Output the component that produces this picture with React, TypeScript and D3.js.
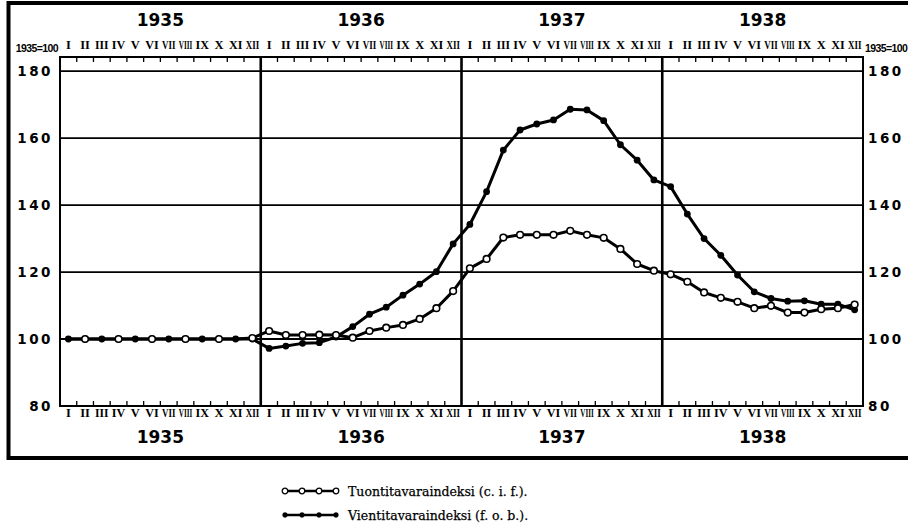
import { useEffect, useRef } from 'react';
import * as d3 from 'd3';

const years = ['1935', '1936', '1937', '1938'];
const monthLabels = ['I', 'II', 'III', 'IV', 'V', 'VI', 'VII', 'VIII', 'IX', 'X', 'XI', 'XII'];
const yTicks = [80, 100, 120, 140, 160, 180];

// Tuontitavaraindeksi (c.i.f.), 1935 = 100, monthly 1935-1938
const importIndex = [
  100, 100, 100, 100, 100, 100, 100, 100, 100, 100, 100, 100.3,
  102.4, 101.2, 101.2, 101.3, 101.2, 100.4, 102.4, 103.4, 104.2, 106, 109.2, 114.3,
  121.1, 123.9, 130.3, 131.1, 131.1, 131.1, 132.3, 131.1, 130.2, 126.9, 122.4, 120.4,
  119.3, 117.1, 113.9, 112.3, 111.1, 109.2, 109.9, 107.9, 107.9, 108.9, 109.2, 110.3
];

// Vientitavaraindeksi (f.o.b.)
const exportIndex = [
  100, 100, 100, 100, 100, 100, 100, 100, 100, 100, 100, 100,
  97.2, 97.9, 98.7, 98.9, 100.6, 103.7, 107.4, 109.5, 113.1, 116.4, 120.1, 128.4,
  134.2, 144, 156.4, 162.4, 164.2, 165.4, 168.6, 168.4, 165.2, 158, 153.4, 147.5,
  145.5, 137.3, 130, 125, 119.1, 114.1, 112.1, 111.3, 111.4, 110.4, 110.4, 108.7
];

const legendItems = [
  { label: 'Tuontitavaraindeksi (c. i. f.).', open: true },
  { label: 'Vientitavaraindeksi (f. o. b.).', open: false }
];

export default function App() {
  const ref = useRef(null);

  useEffect(() => {
    const root = d3.select(ref.current);
    root.selectAll('*').remove();

    const left = 60, right = 863, top = 57, bottom = 406;
    const nMonths = years.length * 12;

    const x = d3.scaleLinear().domain([0, nMonths]).range([left, right]);
    const y = d3.scaleLinear().domain([80, 184.2]).range([bottom, top]);

    const svg = root.append('g');

    // outer frame
    svg.append('path')
      .attr('d', `M8.5,460 L8.5,3 L910,3 M8.5,458 L910,458`)
      .attr('fill', 'none')
      .attr('stroke', '#000')
      .attr('stroke-width', 4);

    // horizontal grid
    svg.selectAll('.grid')
      .data(yTicks.filter(d => d > 80))
      .enter().append('line')
      .attr('x1', left).attr('x2', right)
      .attr('y1', d => y(d)).attr('y2', d => y(d))
      .attr('stroke', '#000')
      .attr('stroke-width', 1.8);

    // plot border
    svg.append('rect')
      .attr('x', left).attr('y', top)
      .attr('width', right - left).attr('height', bottom - top)
      .attr('fill', 'none')
      .attr('stroke', '#000')
      .attr('stroke-width', 2);

    // year separators
    svg.selectAll('.yearline')
      .data(d3.range(1, years.length))
      .enter().append('line')
      .attr('x1', d => x(d * 12)).attr('x2', d => x(d * 12))
      .attr('y1', top).attr('y2', bottom)
      .attr('stroke', '#000')
      .attr('stroke-width', 2.6);

    // month ticks top and bottom
    const bounds = d3.range(1, nMonths).filter(i => i % 12 !== 0);
    svg.selectAll('.ttick')
      .data(bounds)
      .enter().append('line')
      .attr('x1', d => x(d)).attr('x2', d => x(d))
      .attr('y1', top).attr('y2', top + 5)
      .attr('stroke', '#000').attr('stroke-width', 1.3);
    svg.selectAll('.btick')
      .data(bounds)
      .enter().append('line')
      .attr('x1', d => x(d)).attr('x2', d => x(d))
      .attr('y1', bottom).attr('y2', bottom - 5)
      .attr('stroke', '#000').attr('stroke-width', 1.3);

    // month numerals, squeezed horizontally so they fit a month
    const months = d3.range(nMonths);
    const maxW = 13.5;
    [49, 417].forEach(ty => {
      svg.selectAll(null)
        .data(months)
        .enter().append('text')
        .attr('text-anchor', 'middle')
        .attr('font-family', 'Liberation Serif')
        .attr('font-weight', 'bold')
        .attr('font-size', 12.5)
        .text(d => monthLabels[d % 12])
        .each(function (d) {
          const w = (this as SVGTextElement).getComputedTextLength();
          const sx = Math.min(1, maxW / w);
          d3.select(this).attr('transform', `translate(${x(d + 0.5)},${ty}) scale(${sx},1)`);
        });
    });

    // year labels
    [26, 443].forEach(ty => {
      svg.selectAll(null)
        .data(years)
        .enter().append('text')
        .attr('x', (d, i) => x(i * 12 + 6))
        .attr('y', ty)
        .attr('text-anchor', 'middle')
        .attr('font-family', 'DejaVu Sans')
        .attr('font-weight', 'bold')
        .attr('font-size', 17)
        .text(d => d);
    });

    // y axis labels both sides
    svg.selectAll('.ylab')
      .data(yTicks)
      .enter().append('text')
      .attr('x', left - 7)
      .attr('y', d => y(d) + 5)
      .attr('text-anchor', 'end')
      .attr('font-family', 'DejaVu Sans')
      .attr('font-weight', 'bold')
      .attr('font-size', 13.5)
      .attr('letter-spacing', 2.5)
      .text(d => d);
    svg.selectAll('.ylabr')
      .data(yTicks)
      .enter().append('text')
      .attr('x', right + 5)
      .attr('y', d => y(d) + 5)
      .attr('font-family', 'DejaVu Sans')
      .attr('font-weight', 'bold')
      .attr('font-size', 13.5)
      .attr('letter-spacing', 2.5)
      .text(d => d);

    [[left - 2, 'end'], [right + 2, 'start']].forEach(([tx, anchor]) => {
      svg.append('text')
        .attr('x', tx)
        .attr('y', 52)
        .attr('text-anchor', anchor)
        .attr('font-family', 'Liberation Sans Narrow, Liberation Sans')
        .attr('font-weight', 'bold')
        .attr('font-size', 10.5)
        .attr('letter-spacing', -0.6)
        .text('1935=100');
    });

    // lines
    const line = d3.line<number>()
      .x((d, i) => x(i + 0.5))
      .y(d => y(d));

    [exportIndex, importIndex].forEach(series => {
      svg.append('path')
        .datum(series)
        .attr('fill', 'none')
        .attr('stroke', '#000')
        .attr('stroke-width', 3)
        .attr('stroke-linejoin', 'round')
        .attr('d', line);
    });

    // export markers (filled)
    svg.selectAll('.exp')
      .data(exportIndex)
      .enter().append('circle')
      .attr('cx', (d, i) => x(i + 0.5))
      .attr('cy', d => y(d))
      .attr('r', 3.4)
      .attr('fill', '#000');

    // import markers (open); where the two coincide they alternate
    svg.selectAll('.imp')
      .data(importIndex.map((v, i) => ({ v, i })).filter(d => !(d.v === exportIndex[d.i] && d.i % 2 === 0)))
      .enter().append('circle')
      .attr('cx', d => x(d.i + 0.5))
      .attr('cy', d => y(d.v))
      .attr('r', 3.3)
      .attr('fill', '#fff')
      .attr('stroke', '#000')
      .attr('stroke-width', 1.6);

    // legend
    const lg = svg.selectAll('.legend')
      .data(legendItems)
      .enter().append('g')
      .attr('transform', (d, i) => `translate(285,${491 + i * 24})`);

    lg.append('line')
      .attr('x1', 0).attr('x2', 51)
      .attr('stroke', '#000')
      .attr('stroke-width', 2.4);

    lg.each(function (d) {
      d3.select(this).selectAll('circle')
        .data(d3.range(4))
        .enter().append('circle')
        .attr('cx', k => k * 17)
        .attr('cy', 0)
        .attr('r', d.open ? 2.8 : 2.4)
        .attr('fill', d.open ? '#fff' : '#000')
        .attr('stroke', '#000')
        .attr('stroke-width', d.open ? 1.3 : 0.5);
    });

    lg.append('text')
      .attr('x', 63)
      .attr('y', 4.5)
      .attr('font-family', 'DejaVu Serif')
      .attr('font-size', 12.5)
      .attr('stroke', '#000')
      .attr('stroke-width', 0.25)
      .text(d => d.label);
  }, []);

  return (
    <svg width={908} height={524} style={{ position: 'absolute', left: 0, top: 0, background: '#fff' }}>
      <g ref={ref} />
    </svg>
  );
}
